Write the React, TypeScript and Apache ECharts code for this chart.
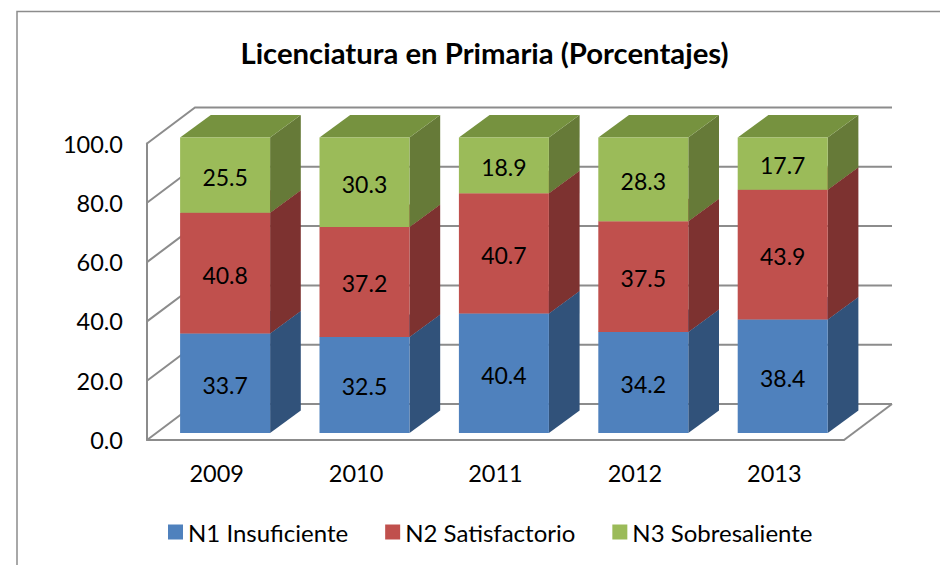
import React, { useEffect, useRef } from "react";
import * as echarts from "echarts";

const years = ["2009", "2010", "2011", "2012", "2013"];
const n1 = [33.7, 32.5, 40.4, 34.2, 38.4];
const n2 = [40.8, 37.2, 40.7, 37.5, 43.9];
const n3 = [25.5, 30.3, 18.9, 28.3, 17.7];
const yTicks = [0, 20, 40, 60, 80, 100];
const seriesNames = ["N1 Insuficiente", "N2 Satisfactorio", "N3 Sobresaliente"];

const FONT = "Lato";
const GRID_COLOR = "#8c8c8c";
const WALL_DX = 48;
const WALL_DY = -36;
const BAR_DX = 30.7;
const BAR_DY = -22.5;
const BAR_RATIO = 0.6456;

const colors = [
  { front: "#4f81bd", side: "#31527a", top: "#3f6797" },
  { front: "#c0504d", side: "#7d3230", top: "#9a403e" },
  { front: "#9bbb59", side: "#667a38", top: "#76923f" },
];

function stacked(values: number[], below: number[]) {
  return values.map((v, i) => [i, below[i], below[i] + v, v]);
}

const base0 = years.map(() => 0);
const base1 = n1.slice();
const base2 = n1.map((v, i) => v + n2[i]);

function barSeries(idx: number, values: number[], below: number[]) {
  const c = colors[idx];
  return {
    type: "custom",
    name: seriesNames[idx],
    xAxisIndex: 1,
    yAxisIndex: 1,
    z: 5,
    itemStyle: { color: c.front },
    encode: { x: 0, y: [1, 2] },
    data: stacked(values, below),
    renderItem: (_p: any, api: any) => {
      const cat = api.value(0);
      const lo = api.coord([cat, api.value(1)]);
      const hi = api.coord([cat, api.value(2)]);
      const w = api.size([1, 0])[0] * BAR_RATIO;
      const x0 = lo[0] - w / 2;
      const x1 = x0 + w;
      const yB = lo[1];
      const yT = hi[1];
      return {
        type: "group",
        children: [
          {
            type: "polygon",
            shape: { points: [[x1, yB], [x1 + BAR_DX, yB + BAR_DY], [x1 + BAR_DX, yT + BAR_DY], [x1, yT]] },
            style: { fill: c.side },
          },
          {
            type: "polygon",
            shape: { points: [[x0, yT], [x0 + BAR_DX, yT + BAR_DY], [x1 + BAR_DX, yT + BAR_DY], [x1, yT]] },
            style: { fill: c.top },
          },
          {
            type: "rect",
            shape: { x: x0, y: yT, width: w, height: yB - yT },
            style: { fill: c.front },
          },
          {
            type: "text",
            x: lo[0],
            y: (yB + yT) / 2 + 1.5,
            style: {
              text: api.value(3).toFixed(1),
              fill: "#000",
              font: `23px ${FONT}`,
              align: "center",
              verticalAlign: "middle",
            },
          },
        ],
      };
    },
  };
}

const wallSeries = {
  type: "custom",
  xAxisIndex: 0,
  yAxisIndex: 0,
  z: 1,
  silent: true,
  encode: { y: 1 },
  data: yTicks.map((t) => [0, t]),
  renderItem: (params: any, api: any) => {
    const cs = params.coordSys;
    const y = api.coord([0, api.value(1)])[1];
    const left = cs.x;
    const right = cs.x + cs.width;
    const children: any[] = [
      {
        type: "polyline",
        shape: { points: [[left, y], [left + WALL_DX, y + WALL_DY], [right + WALL_DX, y + WALL_DY]] },
        style: { fill: "none", stroke: GRID_COLOR, lineWidth: 2 },
      },
    ];
    if (api.value(1) === 0) {
      children.push({
        type: "line",
        shape: { x1: right, y1: y, x2: right + WALL_DX, y2: y + WALL_DY },
        style: { stroke: GRID_COLOR, lineWidth: 2 },
      });
    }
    return { type: "group", children };
  },
};

export default function App() {
  const ref = useRef<HTMLDivElement>(null);
  useEffect(() => {
    if (!ref.current) return;
    const chart = echarts.init(ref.current, undefined, { renderer: "svg", width: 940, height: 565 });
    chart.setOption({
      animation: false,
      backgroundColor: "#fff",
      textStyle: { fontFamily: FONT },
      title: {
        text: "Licenciatura en Primaria (Porcentajes)",
        left: 479.5,
        top: 33,
        textAlign: "center",
        textStyle: { fontFamily: FONT, fontSize: 29.3, fontWeight: "bold", color: "#000" },
      },
      graphic: [
        {
          type: "polyline",
          shape: { points: [[17, 565], [17, 11.5], [940, 11.5]] },
          style: { fill: "none", stroke: "#8c8c8c", lineWidth: 1.5 },
        },
      ],
      legend: {
        left: 163,
        top: 515,
        icon: "rect",
        itemWidth: 15,
        itemHeight: 15,
        itemGap: 37,
        data: seriesNames,
        selectedMode: false,
        textStyle: { fontFamily: FONT, fontSize: 24, color: "#000" },
      },
      grid: [
        { left: 147, top: 143.5, width: 697, height: 296.5 },
        { left: 155.4, top: 137.5, width: 697, height: 295.5 },
      ],
      xAxis: [
        {
          type: "category",
          gridIndex: 0,
          data: years,
          axisTick: { show: false },
          axisLine: { show: true, lineStyle: { color: GRID_COLOR, width: 2 } },
          axisLabel: { color: "#000", fontFamily: FONT, fontSize: 23.5, margin: 21 },
        },
        { type: "category", gridIndex: 1, data: years, show: false },
      ],
      yAxis: [
        {
          type: "value",
          gridIndex: 0,
          min: 0,
          max: 100,
          interval: 20,
          splitLine: { show: false },
          axisTick: { show: false },
          axisLine: { show: true, lineStyle: { color: GRID_COLOR, width: 2 } },
          axisLabel: {
            color: "#000",
            fontFamily: FONT,
            fontSize: 23.5,
            margin: 24,
            formatter: (v: number) => v.toFixed(1),
          },
        },
        { type: "value", gridIndex: 1, min: 0, max: 100, interval: 20, show: false, splitLine: { show: false } },
      ],
      series: [wallSeries, barSeries(0, n1, base0), barSeries(1, n2, base1), barSeries(2, n3, base2)],
    });
    return () => chart.dispose();
  }, []);
  return <div ref={ref} style={{ position: "fixed", left: 0, top: 0, width: 940, height: 565 }} />;
}
